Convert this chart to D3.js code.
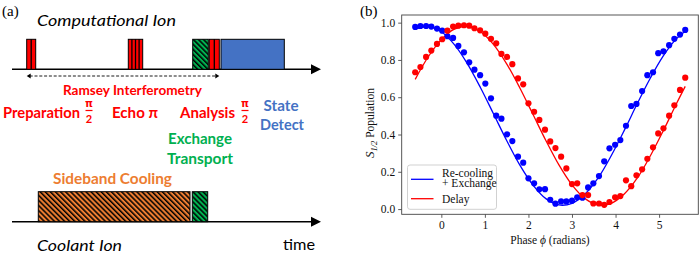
<!DOCTYPE html>
<html><head><meta charset="utf-8">
<script src="https://cdn.jsdelivr.net/npm/d3@7"></script>
<style>body{margin:0;background:#fff}svg{display:block}</style>
</head><body>
<script>
// ---------------- Panel (a): pulse sequence (time in arbitrary units) ----------------
const compPulseKinds  = ["prep", "echo", "exchange", "analysis", "detect"];
const compPulseStart  = [14.7, 116.3, 180.7, 197.3, 209.0];
const compPulseEnd    = [23.7, 130.7, 196.3, 207.3, 272.3];
const compPulseLines  = [1, 3, 0, 1, 0];
const coolPulseKinds  = ["cooling", "exchange"];
const coolPulseStart  = [26.3, 180.3];
const coolPulseEnd    = [178.0, 195.7];
const ramseySpan      = [14.7, 207.3];
const timeAxisEnd     = 309;

// ---------------- Panel (b): data ----------------
const phase = [-0.60,-0.48,-0.35,-0.23,-0.10,0.02,0.14,0.27,0.39,0.52,0.64,0.76,0.89,1.01,1.14,1.26,1.38,1.51,1.63,1.76,1.88,2.00,2.13,2.25,2.38,2.50,2.62,2.75,2.87,3.00,3.12,3.24,3.37,3.49,3.62,3.74,3.86,3.99,4.11,4.24,4.36,4.48,4.61,4.73,4.86,4.98,5.10,5.23,5.35,5.48,5.60];
const recoolValues = [0.977,0.982,0.982,0.979,0.968,0.957,0.927,0.918,0.875,0.841,0.787,0.748,0.718,0.673,0.594,0.501,0.485,0.401,0.365,0.281,0.249,0.165,0.138,0.106,0.107,0.050,0.029,0.041,0.041,0.045,0.063,0.061,0.116,0.138,0.177,0.256,0.326,0.345,0.370,0.447,0.553,0.564,0.633,0.718,0.734,0.836,0.846,0.879,0.913,0.936,0.961];
const delayValues  = [0.734,0.762,0.816,0.850,0.886,0.911,0.957,0.979,0.984,0.986,0.984,0.970,0.959,0.941,0.913,0.889,0.832,0.816,0.777,0.701,0.669,0.567,0.522,0.478,0.426,0.363,0.327,0.281,0.218,0.134,0.138,0.075,0.075,0.030,0.030,0.023,0.038,0.063,0.070,0.154,0.123,0.181,0.213,0.270,0.331,0.406,0.433,0.501,0.557,0.639,0.705];
const fitPhase  = [-0.6,-0.3,0,0.3,0.6,0.9,1.2,1.5,1.8,2.1,2.4,2.7,3.0,3.3,3.6,3.9,4.2,4.5,4.8,5.1,5.4,5.6];
const recoolFit = [0.965,0.979,0.951,0.882,0.779,0.651,0.510,0.368,0.237,0.130,0.056,0.022,0.031,0.081,0.167,0.286,0.422,0.566,0.703,0.823,0.914,0.954];
const delayFit  = [0.696,0.817,0.909,0.965,0.979,0.951,0.882,0.779,0.651,0.510,0.368,0.237,0.130,0.056,0.022,0.031,0.081,0.167,0.286,0.422,0.566,0.658];
const xTicks = [0,1,2,3,4,5];
const yTicks = [0.0,0.2,0.4,0.6,0.8,1.0];
const seriesNames = ["Re-cooling\n+ Exchange", "Delay"];

const RED="#FF0000", GREEN="#00B050", ORANGE="#ED7D31", BLUE="#4472C4";

const svg = d3.select("body").append("svg").attr("width",700).attr("height",257);
const defs = svg.append("defs");
function hatch(id,color){
  const p = defs.append("pattern").attr("id",id).attr("patternUnits","userSpaceOnUse")
    .attr("width",3.6).attr("height",3.6).attr("patternTransform","rotate(-45)");
  p.append("rect").attr("width",3.6).attr("height",3.6).attr("fill",color);
  p.append("rect").attr("width",1.5).attr("height",3.6).attr("fill","#000");
}
hatch("hOrange",ORANGE); hatch("hGreen",GREEN);

const sans = "Lato, 'Liberation Sans', sans-serif";
const serif = "'Liberation Serif', 'DejaVu Serif', serif";

// ---- panel (a) ----
const tx = d3.scaleLinear().domain([0,310]).range([12,322]);
const compY = 69.3, coolY = 221.7, pulseH = 30;
const fillFor = {prep:RED, echo:RED, analysis:RED, exchange:"url(#hGreen)", detect:BLUE, cooling:"url(#hOrange)"};

function timeAxis(yy){
  svg.append("line").attr("x1",tx(0)).attr("x2",tx(timeAxisEnd-8)).attr("y1",yy).attr("y2",yy)
    .attr("stroke","#000").attr("stroke-width",1.6);
  svg.append("path").attr("d",`M${tx(timeAxisEnd)},${yy} L${tx(timeAxisEnd-10)},${yy-5} L${tx(timeAxisEnd-10)},${yy+5} Z`).attr("fill","#000");
}
timeAxis(compY); timeAxis(coolY);

function pulses(kinds,starts,ends,lines,yy){
  kinds.forEach((k,i)=>{
    const x0=tx(starts[i]), x1=tx(ends[i]);
    svg.append("rect").attr("x",x0).attr("y",yy-pulseH).attr("width",x1-x0).attr("height",pulseH)
      .attr("fill",fillFor[k]).attr("stroke","#000").attr("stroke-width",1);
    const n = lines ? lines[i] : 0;
    for(let j=1;j<=n;j++){
      const xx = x0 + (x1-x0)*j/(n+1);
      svg.append("line").attr("x1",xx).attr("x2",xx).attr("y1",yy-pulseH).attr("y2",yy)
        .attr("stroke","#000").attr("stroke-width",1.3);
    }
  });
}
pulses(compPulseKinds,compPulseStart,compPulseEnd,compPulseLines,compY);
pulses(coolPulseKinds,coolPulseStart,coolPulseEnd,null,coolY);

// Ramsey dashed double arrow
const ry = 76;
svg.append("line").attr("x1",tx(ramseySpan[0])+3).attr("x2",tx(ramseySpan[1])-3).attr("y1",ry).attr("y2",ry)
  .attr("stroke","#000").attr("stroke-width",0.9).attr("stroke-dasharray","3,1.8");
svg.append("path").attr("d",`M${tx(ramseySpan[0])},${ry} l4,-2.5 l0,5 Z`).attr("fill","#000");
svg.append("path").attr("d",`M${tx(ramseySpan[1])},${ry} l-4,-2.5 l0,5 Z`).attr("fill","#000");

function txt(x,y,s,opt){
  const t = svg.append("text").attr("x",x).attr("y",y).text(s)
    .attr("font-family",opt.family||sans).attr("font-size",opt.size)
    .attr("font-weight",opt.weight||"normal").attr("font-style",opt.style||"normal")
    .attr("fill",opt.fill||"#000").attr("text-anchor",opt.anchor||"start");
  if(opt.len) t.attr("textLength",opt.len).attr("lengthAdjust","spacingAndGlyphs");
  return t;
}
function frac(cx,top,color){
  txt(cx,top+6,"π",{size:10,weight:"bold",fill:color,anchor:"middle",family:"'DejaVu Sans', sans-serif"});
  svg.append("line").attr("x1",cx-3.5).attr("x2",cx+3.5).attr("y1",top+9.5).attr("y2",top+9.5).attr("stroke",color).attr("stroke-width",1.2);
  txt(cx,top+22,"2",{size:11,weight:"bold",fill:color,anchor:"middle"});
}
txt(2,16,"(a)",{family:serif,size:15});
txt(37,25.5,"Computational Ion",{size:16,style:"italic",len:139});
txt(63,94.5,"Ramsey Interferometry",{size:12.5,weight:"bold",fill:RED,len:139});
txt(3,118,"Preparation",{size:15,weight:"bold",fill:RED,len:77});
frac(89,101,RED);
txt(112,118,"Echo π",{size:15,weight:"bold",fill:RED,len:46});
txt(180,118,"Analysis",{size:15,weight:"bold",fill:RED,len:55});
frac(245,101,RED);
txt(281,111,"State",{size:15,weight:"bold",fill:BLUE,anchor:"middle",len:35});
txt(282,130,"Detect",{size:15,weight:"bold",fill:BLUE,anchor:"middle",len:44});
txt(200,144,"Exchange",{size:15,weight:"bold",fill:GREEN,anchor:"middle",len:64});
txt(200,163.5,"Transport",{size:15,weight:"bold",fill:GREEN,anchor:"middle",len:66});
txt(53,184,"Sideband Cooling",{size:15,weight:"bold",fill:ORANGE,len:119});
txt(37,251,"Coolant Ion",{size:16,style:"italic",len:85});
txt(283,250,"time",{size:16,len:32});

// ---- panel (b) ----
const x = d3.scaleLinear().domain([-0.91,5.9]).range([401.7,698.3]);
const y = d3.scaleLinear().domain([-0.028,1.041]).range([214.3,15]);
txt(360,16,"(b)",{family:serif,size:15});

const gx = svg.append("g").attr("transform","translate(0,214.3)")
  .call(d3.axisBottom(x).tickValues(xTicks).tickFormat(d3.format("d")).tickSize(3.5).tickPadding(3));
const gy = svg.append("g").attr("transform","translate(401.7,0)")
  .call(d3.axisLeft(y).tickValues(yTicks).tickFormat(d3.format(".1f")).tickSize(3.5).tickPadding(3));
[gx,gy].forEach(g=>{
  g.select(".domain").remove();
  g.selectAll("line").attr("stroke","#333").attr("stroke-width",0.8);
  g.selectAll("text").attr("font-family",serif).attr("font-size",11.5).attr("fill","#111");
});

const line = d3.line().x((d,i)=>x(fitPhase[i])).y(d=>y(d)).curve(d3.curveCatmullRom);
svg.append("path").datum(recoolFit).attr("d",line).attr("fill","none").attr("stroke","#0000FF").attr("stroke-width",1.3);
svg.append("path").datum(delayFit).attr("d",line).attr("fill","none").attr("stroke","#FF0000").attr("stroke-width",1.3);

svg.append("g").selectAll("circle").data(recoolValues).join("circle")
  .attr("cx",(d,i)=>x(phase[i])).attr("cy",d=>y(d)).attr("r",3.1).attr("fill","#0000FF");
svg.append("g").selectAll("circle").data(delayValues).join("circle")
  .attr("cx",(d,i)=>x(phase[i])).attr("cy",d=>y(d)).attr("r",3.1).attr("fill","#FF0000");

svg.append("rect").attr("x",401.7).attr("y",15).attr("width",698.3-401.7).attr("height",214.3-15)
  .attr("fill","none").attr("stroke","#444").attr("stroke-width",0.9);

// legend
const lg = svg.append("g");
lg.append("rect").attr("x",407.5).attr("y",165).attr("width",89).attr("height",44.3).attr("rx",2.5)
  .attr("fill","#fff").attr("fill-opacity",0.85).attr("stroke","#ccc").attr("stroke-width",0.9);
const legColors = ["#0000FF","#FF0000"];
const legLineY = [179.3,198.7];
seriesNames.forEach((nm,i)=>{
  lg.append("line").attr("x1",411).attr("x2",433.5).attr("y1",legLineY[i]).attr("y2",legLineY[i])
    .attr("stroke",legColors[i]).attr("stroke-width",1.3);
  nm.split("\n").forEach((part,j)=>{
    txt(442, (i===0?176.5:202.5)+j*10.8, part, {family:serif,size:11.5,fill:"#111"});
  });
});

// axis labels
txt(550,243.5,"",{family:serif,size:11.5,anchor:"middle",fill:"#111"})
  .call(t=>{t.append("tspan").text("Phase ");
            t.append("tspan").attr("font-style","italic").text("ϕ");
            t.append("tspan").text(" (radians)");});
const yl = svg.append("text").attr("transform","translate(374,123) rotate(-90)")
  .attr("text-anchor","middle").attr("font-family",serif).attr("font-size",11.5).attr("fill","#111");
yl.append("tspan").attr("font-style","italic").attr("font-size",13).text("S");
yl.append("tspan").attr("font-style","italic").attr("font-size",8.5).attr("dy",3).text("1/2");
yl.append("tspan").attr("dy",-3).text(" Population");
</script>
</body></html>
